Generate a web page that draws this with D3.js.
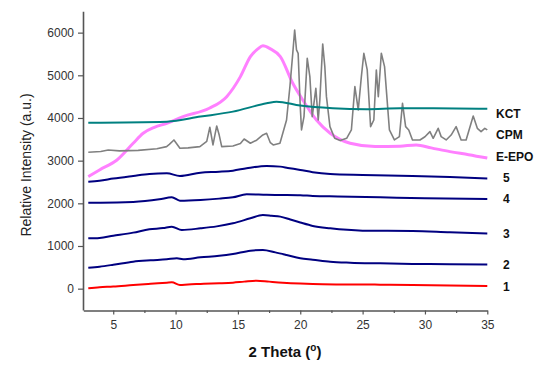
<!DOCTYPE html>
<html>
<head>
<meta charset="utf-8">
<script src="https://cdn.jsdelivr.net/npm/d3@7"></script>
<style>
  html, body { margin: 0; padding: 0; background: #fff; }
  svg { display: block; font-family: Arial, "Liberation Sans", sans-serif; }
</style>
</head>
<body>
<svg id="chart" width="554" height="366"></svg>
<script>
// ---------------- DATA (2θ in degrees, intensity in a.u.) ----------------
const xTicks = [5, 10, 15, 20, 25, 30, 35];
const xMinorTicks = [7.5, 12.5, 17.5, 22.5, 27.5, 32.5];
const yTicks = [0, 1000, 2000, 3000, 4000, 5000, 6000];

const seriesNames = ["KCT", "CPM", "E-EPO", "5", "4", "3", "2", "1"];

const s1 = [[3,10],[3.9,32],[5,50],[6.6,86],[8,115],[9.3,141],[9.7,150],[10.35,86],[11,100],[12,110],[13.5,125],[14.6,141],[15.5,165],[16.5,188],[17.5,165],[18.6,141],[20,120],[21,110],[23,100],[26.4,94],[29,85],[32,72],[35,63]];

const s2 = [[3,492],[3.9,516],[5,560],[6.6,633],[8,665],[9.3,688],[10.1,712],[10.6,690],[12,735],[13.5,770],[14.6,813],[16,891],[17,907],[18,850],[18.9,790],[20,712],[21,680],[22.4,633],[24,610],[26.4,594],[29,580],[32,572],[35,568]];

const s3 = [[3,1180],[3.9,1190],[5,1240],[6.6,1313],[7.9,1391],[9,1420],[9.7,1453],[10.5,1375],[12,1414],[13.3,1460],[14.6,1531],[16,1649],[17,1727],[17.7,1710],[18.4,1688],[19.2,1620],[20,1550],[21,1470],[22.4,1414],[25,1360],[29,1350],[32,1320],[35,1292]];

const s4 = [[3,2016],[4,2016],[6.6,2032],[8.7,2094],[9.7,2141],[10.35,2063],[12,2079],[13.5,2110],[14.6,2141],[15.7,2210],[17.3,2200],[18.4,2196],[20,2190],[21,2172],[23,2160],[26.4,2141],[30,2120],[35,2102]];

const s5 = [[3,2508],[3.9,2531],[5,2580],[6.6,2641],[7.9,2688],[9.3,2704],[10.35,2641],[12,2719],[13.5,2740],[14.6,2766],[15.7,2822],[17.3,2875],[18.4,2860],[19,2830],[20,2782],[21,2730],[22.4,2688],[25,2665],[29,2641],[32,2615],[35,2582]];

const eepo = [[3,2625],[3.9,2782],[5.3,3016],[6.6,3407],[7.4,3641],[8.3,3780],[9.3,3876],[10.6,4032],[12.7,4227],[14.1,4500],[15.2,4969],[16,5438],[16.6,5620],[17,5690],[17.6,5620],[18.4,5438],[19.4,4813],[20.2,4422],[21.3,3953],[22.4,3641],[24,3407],[26,3330],[28,3340],[29.3,3368],[30.5,3300],[32,3211],[33.5,3140],[35,3060]];

const kct = [[3,3890],[9.3,3914],[12,4032],[14.6,4149],[17.3,4344],[18.1,4383],[20,4290],[22.6,4227],[25.3,4204],[28,4227],[30.7,4227],[35,4215]];

const cpm = [[3,3197],[4,3215],[4.6,3250],[5.5,3230],[7,3240],[8.5,3280],[9.28,3328],[9.5,3380],[9.87,3485],[10.35,3290],[11,3300],[11.95,3328],[12.5,3450],[12.75,3782],[13.0,3368],[13.3,3813],[13.5,3600],[13.7,3328],[14.6,3344],[15.2,3400],[15.5,3508],[16,3407],[16.5,3480],[17.0,3602],[17.3,3641],[17.6,3420],[17.83,3368],[18.37,3407],[18.9,3953],[19.17,4735],[19.4,5516],[19.55,6063],[19.7,5594],[19.83,5516],[20.0,4266],[20.1,3719],[20.3,4032],[20.56,5399],[20.77,4969],[20.96,4032],[21.25,4696],[21.44,3953],[21.57,4422],[21.8,5735],[21.97,5204],[22.1,4500],[22.38,3797],[22.76,3524],[23.2,3470],[23.72,3524],[24.1,3719],[24.38,4735],[24.65,4188],[24.9,4969],[25.1,5516],[25.37,5126],[25.64,3797],[25.9,3953],[26.1,5126],[26.26,4500],[26.5,5516],[26.76,5204],[27.15,3719],[27.55,3485],[27.95,3563],[28.2,4344],[28.45,3797],[28.7,3719],[29.0,3485],[29.6,3485],[30.0,3560],[30.4,3680],[30.66,3524],[31.06,3758],[31.3,3563],[31.7,3485],[32.1,3600],[32.5,3797],[32.9,3485],[33.3,3485],[33.87,4047],[34.2,3758],[34.5,3680],[34.8,3758],[35,3720]];

// ---------------- LAYOUT / STYLE ----------------
const svg = d3.select("#chart");
const x = d3.scaleLinear().domain([2.6, 35]).range([83.3, 487.3]);
const y = d3.scaleLinear().domain([-500, 6500]).range([310, 11.3]);

const styles = [
  { data: kct,  name: "KCT",   color: "#008080", width: 2,   curve: d3.curveMonotoneX, lx: 496, dy: 5 },
  { data: cpm,  name: "CPM",   color: "#808080", width: 1.6, curve: d3.curveLinear,    lx: 496, dy: 5 },
  { data: eepo, name: "E-EPO", color: "#ff80ff", width: 3,   curve: d3.curveMonotoneX, lx: 496, dy: -1 },
  { data: s5,   name: "5",     color: "#000080", width: 2,   curve: d3.curveMonotoneX, lx: 503, dy: -1 },
  { data: s4,   name: "4",     color: "#000080", width: 2,   curve: d3.curveMonotoneX, lx: 503, dy: 0 },
  { data: s3,   name: "3",     color: "#000080", width: 2,   curve: d3.curveMonotoneX, lx: 503, dy: 0 },
  { data: s2,   name: "2",     color: "#000080", width: 2,   curve: d3.curveMonotoneX, lx: 503, dy: 0 },
  { data: s1,   name: "1",     color: "#ff0000", width: 2,   curve: d3.curveMonotoneX, lx: 503, dy: 1 }
];

const axisColor = "#555";

// Y axis
const gy = svg.append("g").attr("transform", "translate(83,0)")
  .call(d3.axisLeft(y).tickValues(yTicks).tickFormat(d3.format("d")).tickSize(5).tickSizeOuter(0).tickPadding(4));
gy.select(".domain").attr("stroke", axisColor).attr("stroke-width", 1.6);
gy.selectAll(".tick line").attr("stroke", axisColor).attr("stroke-width", 1.2);
gy.selectAll(".tick text").attr("fill", "#333").style("font-size", "12px")
  .style("font-family", "Arial, 'Liberation Sans', sans-serif");

// X axis
const gx = svg.append("g").attr("transform", "translate(0,310.5)")
  .call(d3.axisBottom(x).tickValues(xTicks).tickFormat(d3.format("d")).tickSize(4).tickSizeOuter(0).tickPadding(6));
gx.select(".domain").attr("stroke", axisColor).attr("stroke-width", 1.6);
gx.selectAll(".tick line").attr("stroke", axisColor).attr("stroke-width", 1.2);
gx.selectAll(".tick text").attr("fill", "#333").style("font-size", "12px")
  .style("font-family", "Arial, 'Liberation Sans', sans-serif");
const gxm = svg.append("g").attr("transform", "translate(0,310.5)")
  .call(d3.axisBottom(x).tickValues(xMinorTicks).tickSize(2.5).tickFormat(""));
gxm.select(".domain").remove();
gxm.selectAll(".tick line").attr("stroke", axisColor).attr("stroke-width", 1.2);

// Series lines
styles.slice().reverse().forEach(s => {
  const line = d3.line().x(d => x(d[0])).y(d => y(d[1])).curve(s.curve);
  svg.append("path").datum(s.data)
    .attr("d", line)
    .attr("fill", "none")
    .attr("stroke", s.color)
    .attr("stroke-width", s.width)
    .attr("stroke-linejoin", "round");
});

// Series labels
styles.forEach(s => {
  const last = s.data[s.data.length - 1];
  svg.append("text")
    .attr("x", s.lx)
    .attr("y", y(last[1]) + s.dy)
    .attr("dy", "0.35em")
    .attr("fill", "#111")
    .style("font-size", "12px")
    .style("font-weight", "bold")
    .text(s.name);
});

// Axis titles
svg.append("text")
  .attr("transform", "translate(31,165) rotate(-90)")
  .attr("text-anchor", "middle")
  .attr("fill", "#222")
  .style("font-size", "14px")
  .text("Relative Intensity (a.u.)");

const xt = svg.append("text")
  .attr("x", 285).attr("y", 357)
  .attr("text-anchor", "middle")
  .attr("fill", "#111")
  .style("font-size", "15px")
  .style("font-weight", "bold");
xt.append("tspan").text("2 Theta (");
xt.append("tspan").attr("dy", -6).style("font-size", "10px").text("o");
xt.append("tspan").attr("dy", 6).text(")");
</script>
</body>
</html>
